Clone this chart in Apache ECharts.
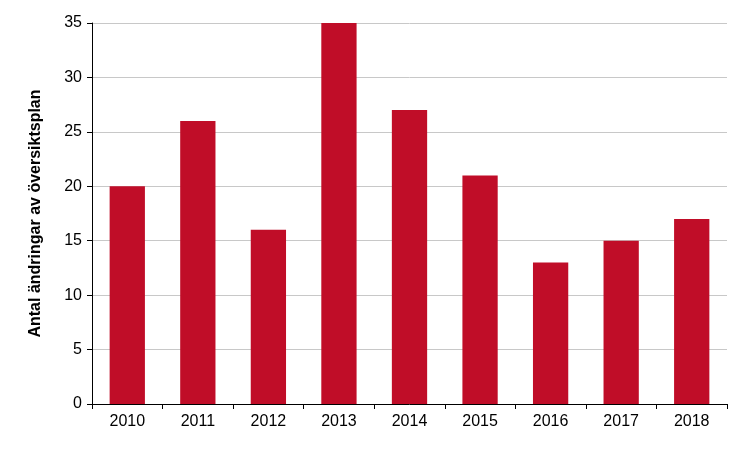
<!DOCTYPE html>
<html>
<head>
<meta charset="utf-8">
<script src="https://cdn.jsdelivr.net/npm/echarts@6/dist/echarts.min.js"></script>
<style>html,body{margin:0;padding:0;background:#fff}#chart{width:750px;height:450px}</style>
</head>
<body>
<div id="chart"></div>
<script>
var years = ['2010', '2011', '2012', '2013', '2014', '2015', '2016', '2017', '2018'];
var changes = [20, 26, 16, 35, 27, 21, 13, 15, 17];

var chart = echarts.init(document.getElementById('chart'));
chart.setOption({
    animation: false,
    grid: {left: 92, right: 23, top: 23, bottom: 46},
    xAxis: {
        type: 'category',
        data: years,
        axisLine: {lineStyle: {color: '#000'}},
        axisTick: {show: true, alignWithLabel: false, length: 5, lineStyle: {color: '#000'}},
        axisLabel: {color: '#000', fontSize: 16, fontFamily: 'Liberation Sans', margin: 10}
    },
    yAxis: {
        type: 'value',
        min: 0,
        max: 35,
        interval: 5,
        name: 'Antal ändringar av översiktsplan',
        nameLocation: 'middle',
        nameGap: 48,
        nameTextStyle: {color: '#000', fontSize: 16, fontWeight: 'bold', fontFamily: 'Liberation Sans'},
        axisLine: {show: true, lineStyle: {color: '#000'}},
        axisTick: {show: true, length: 5, lineStyle: {color: '#000'}},
        axisLabel: {color: '#000', fontSize: 16, fontFamily: 'Liberation Sans', margin: 10},
        splitLine: {lineStyle: {color: '#c8c8c8'}}
    },
    series: [{
        type: 'bar',
        data: changes,
        barWidth: '50%',
        itemStyle: {color: '#c00d28'}
    }]
});
</script>
</body>
</html>
